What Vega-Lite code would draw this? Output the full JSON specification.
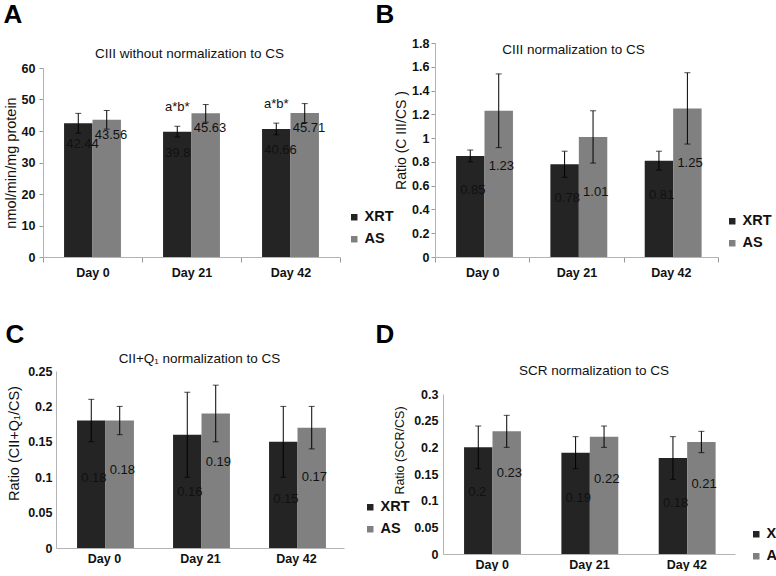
{
  "$schema": "https://vega.github.io/schema/vega-lite/v6.json",
  "background": "white",
  "padding": {"left": 3, "top": 1, "right": 0, "bottom": 0},
  "resolve": {"legend": {"color": "independent"}},
  "datasets": {
    "A": [
      {"day": "Day 0", "group": "XRT", "value": 42.44, "lo": 39.3, "hi": 45.6, "sig": ""},
      {"day": "Day 0", "group": "AS", "value": 43.56, "lo": 40.6, "hi": 46.5, "sig": ""},
      {"day": "Day 21", "group": "XRT", "value": 39.8, "lo": 38.1, "hi": 41.5, "sig": "a*b*"},
      {"day": "Day 21", "group": "AS", "value": 45.63, "lo": 42.8, "hi": 48.4, "sig": ""},
      {"day": "Day 42", "group": "XRT", "value": 40.66, "lo": 38.8, "hi": 42.5, "sig": "a*b*"},
      {"day": "Day 42", "group": "AS", "value": 45.71, "lo": 42.7, "hi": 48.7, "sig": ""}
    ],
    "B": [
      {"day": "Day 0", "group": "XRT", "value": 0.85, "lo": 0.8, "hi": 0.9},
      {"day": "Day 0", "group": "AS", "value": 1.23, "lo": 0.92, "hi": 1.54},
      {"day": "Day 21", "group": "XRT", "value": 0.78, "lo": 0.67, "hi": 0.89},
      {"day": "Day 21", "group": "AS", "value": 1.01, "lo": 0.79, "hi": 1.23},
      {"day": "Day 42", "group": "XRT", "value": 0.81, "lo": 0.73, "hi": 0.89},
      {"day": "Day 42", "group": "AS", "value": 1.25, "lo": 0.95, "hi": 1.55}
    ],
    "C": [
      {"day": "Day 0", "group": "XRT", "value": 0.18, "lo": 0.15, "hi": 0.21},
      {"day": "Day 0", "group": "AS", "value": 0.18, "lo": 0.16, "hi": 0.2},
      {"day": "Day 21", "group": "XRT", "value": 0.16, "lo": 0.1, "hi": 0.22},
      {"day": "Day 21", "group": "AS", "value": 0.19, "lo": 0.15, "hi": 0.23},
      {"day": "Day 42", "group": "XRT", "value": 0.15, "lo": 0.1, "hi": 0.2},
      {"day": "Day 42", "group": "AS", "value": 0.17, "lo": 0.14, "hi": 0.2}
    ],
    "D": [
      {"day": "Day 0", "group": "XRT", "value": 0.2, "lo": 0.16, "hi": 0.24},
      {"day": "Day 0", "group": "AS", "value": 0.23, "lo": 0.2, "hi": 0.26},
      {"day": "Day 21", "group": "XRT", "value": 0.19, "lo": 0.16, "hi": 0.22},
      {"day": "Day 21", "group": "AS", "value": 0.22, "lo": 0.2, "hi": 0.24},
      {"day": "Day 42", "group": "XRT", "value": 0.18, "lo": 0.14, "hi": 0.22},
      {"day": "Day 42", "group": "AS", "value": 0.21, "lo": 0.19, "hi": 0.23}
    ]
  },
  "spacing": -35,
  "hconcat": [
    {
      "spacing": 42,
      "resolve": {"legend": {"color": "independent"}},
      "vconcat": [
        {
          "width": 297, "height": 214,
          "title": {"text": "CIII without normalization to CS", "offset": -59.5, "anchor": "middle", "frame": "group", "dx": -2},
          "data": {"name": "A"},
          "encoding": {
            "x": {"field": "day", "type": "nominal", "sort": ["Day 0", "Day 21", "Day 42"], "scale": {"paddingInner": 0, "paddingOuter": 0},
                  "axis": {"ticks": true, "tickSize": 5, "title": "A", "titleX": -40, "titleY": -256}},
            "xOffset": {"field": "group", "type": "nominal", "sort": ["XRT", "AS"], "scale": {"paddingInner": 0, "paddingOuter": 0.74}}
          },
          "layer": [
            {"mark": {"type": "bar"}, "encoding": {
              "y": {"field": "value", "type": "quantitative", "scale": {"domain": [0, 60], "range": [214, 25], "nice": false}, "axis": {"values": [0, 10, 20, 30, 40, 50, 60], "ticks": true, "tickSize": 4, "labelPadding": 4, "title": "nmol/min/mg protein", "titlePadding": 3, "titleFontSize": 14.5}},
              "color": {"field": "group", "type": "nominal", "sort": ["XRT", "AS"], "scale": {"domain": ["XRT", "AS"], "range": ["#242424", "#808080"]}, "legend": {"orient": "none", "legendX": 304, "legendY": 167, "title": null}}
            }},
            {"mark": {"type": "rule", "color": "#000", "strokeWidth": 1}, "encoding": {"y": {"field": "lo", "type": "quantitative"}, "y2": {"field": "hi"}}},
            {"mark": {"type": "tick", "color": "#000", "thickness": 1, "size": 6, "orient": "horizontal"}, "encoding": {"y": {"field": "lo", "type": "quantitative"}}},
            {"mark": {"type": "tick", "color": "#000", "thickness": 1, "size": 6, "orient": "horizontal"}, "encoding": {"y": {"field": "hi", "type": "quantitative"}}},
            {"transform": [{"filter": "datum.group === 'XRT'"}], "mark": {"type": "text", "align": "left", "baseline": "middle", "dx": -12, "dy": 21, "fontSize": 13, "color": "#111"}, "encoding": {"y": {"field": "value", "type": "quantitative"}, "text": {"field": "value", "type": "quantitative", "format": "~g"}}},
            {"transform": [{"filter": "datum.group === 'AS'"}], "mark": {"type": "text", "align": "left", "baseline": "middle", "dx": -12, "dy": 15, "fontSize": 13, "color": "#111"}, "encoding": {"y": {"field": "value", "type": "quantitative"}, "text": {"field": "value", "type": "quantitative", "format": "~g"}}},
            {"transform": [{"filter": "datum.sig != ''"}], "mark": {"type": "text", "align": "center", "baseline": "middle", "dy": -19, "fontSize": 13, "color": "#111"}, "encoding": {"y": {"field": "hi", "type": "quantitative"}, "text": {"field": "sig", "type": "nominal"}}}
          ]
        },
        {
          "width": 301, "height": 177,
          "title": {"text": "CII+Q₁ normalization to CS", "offset": -44.5, "anchor": "middle", "frame": "group", "dx": 6},
          "data": {"name": "C"},
          "encoding": {
            "x": {"field": "day", "type": "nominal", "sort": ["Day 0", "Day 21", "Day 42"], "scale": {"paddingInner": 0, "paddingOuter": 0, "range": [13, 301]},
                  "axis": {"ticks": false, "title": "C", "titleX": -38, "titleY": -227}},
            "xOffset": {"field": "group", "type": "nominal", "sort": ["XRT", "AS"], "scale": {"paddingInner": 0, "paddingOuter": 0.76}}
          },
          "layer": [
            {"mark": {"type": "bar"}, "encoding": {
              "y": {"field": "value", "type": "quantitative", "scale": {"domain": [0, 0.25], "nice": false}, "axis": {"values": [0, 0.05, 0.1, 0.15, 0.2, 0.25], "ticks": false, "offset": -13, "labelPadding": 4, "title": "Ratio (CII+Q₁/CS)", "titleX": -35, "titleY": 72, "titleFontSize": 14.5}},
              "color": {"field": "group", "type": "nominal", "sort": ["XRT", "AS"], "scale": {"domain": ["XRT", "AS"], "range": ["#242424", "#808080"]}, "legend": {"orient": "none", "legendX": 320, "legendY": 129, "title": null}}
            }},
            {"mark": {"type": "rule", "color": "#000", "strokeWidth": 1}, "encoding": {"y": {"field": "lo", "type": "quantitative"}, "y2": {"field": "hi"}}},
            {"mark": {"type": "tick", "color": "#000", "thickness": 1, "size": 6, "orient": "horizontal"}, "encoding": {"y": {"field": "lo", "type": "quantitative"}}},
            {"mark": {"type": "tick", "color": "#000", "thickness": 1, "size": 6, "orient": "horizontal"}, "encoding": {"y": {"field": "hi", "type": "quantitative"}}},
            {"transform": [{"filter": "datum.group === 'XRT'"}], "mark": {"type": "text", "align": "left", "baseline": "middle", "dx": -10, "dy": 57, "fontSize": 13, "color": "#111"}, "encoding": {"y": {"field": "value", "type": "quantitative"}, "text": {"field": "value", "type": "quantitative", "format": "~g"}}},
            {"transform": [{"filter": "datum.group === 'AS'"}], "mark": {"type": "text", "align": "left", "baseline": "middle", "dx": -10, "dy": 49, "fontSize": 13, "color": "#111"}, "encoding": {"y": {"field": "value", "type": "quantitative"}, "text": {"field": "value", "type": "quantitative", "format": "~g"}}}
          ]
        }
      ]
    },
    {
      "spacing": 42,
      "resolve": {"legend": {"color": "independent"}},
      "vconcat": [
        {
          "width": 283, "height": 214,
          "title": {"text": "CIII normalization to CS", "offset": -55.5, "anchor": "middle", "frame": "group", "dx": -3},
          "data": {"name": "B"},
          "encoding": {
            "x": {"field": "day", "type": "nominal", "sort": ["Day 0", "Day 21", "Day 42"], "scale": {"paddingInner": 0, "paddingOuter": 0},
                  "axis": {"ticks": true, "tickSize": 5, "title": "B", "titleX": -60, "titleY": -256}},
            "xOffset": {"field": "group", "type": "nominal", "sort": ["XRT", "AS"], "scale": {"paddingInner": 0, "paddingOuter": 0.76}}
          },
          "layer": [
            {"mark": {"type": "bar"}, "encoding": {
              "y": {"field": "value", "type": "quantitative", "scale": {"domain": [0, 1.8], "nice": false}, "axis": {"values": [0, 0.2, 0.4, 0.6, 0.8, 1, 1.2, 1.4, 1.6, 1.8], "ticks": true, "tickSize": 4, "labelPadding": 2, "title": "Ratio (C III/CS )", "titleX": -27, "titleY": 97, "titleFontSize": 14}},
              "color": {"field": "group", "type": "nominal", "sort": ["XRT", "AS"], "scale": {"domain": ["XRT", "AS"], "range": ["#242424", "#808080"]}, "legend": {"orient": "none", "legendX": 290, "legendY": 171, "title": null}}
            }},
            {"mark": {"type": "rule", "color": "#000", "strokeWidth": 1}, "encoding": {"y": {"field": "lo", "type": "quantitative"}, "y2": {"field": "hi"}}},
            {"mark": {"type": "tick", "color": "#000", "thickness": 1, "size": 6, "orient": "horizontal"}, "encoding": {"y": {"field": "lo", "type": "quantitative"}}},
            {"mark": {"type": "tick", "color": "#000", "thickness": 1, "size": 6, "orient": "horizontal"}, "encoding": {"y": {"field": "hi", "type": "quantitative"}}},
            {"transform": [{"filter": "datum.group === 'XRT'"}], "mark": {"type": "text", "align": "left", "baseline": "middle", "dx": -10, "dy": 34, "fontSize": 13, "color": "#111"}, "encoding": {"y": {"field": "value", "type": "quantitative"}, "text": {"field": "value", "type": "quantitative", "format": "~g"}}},
            {"transform": [{"filter": "datum.group === 'AS'"}], "mark": {"type": "text", "align": "left", "baseline": "middle", "dx": -10, "dy": 55, "fontSize": 13, "color": "#111"}, "encoding": {"y": {"field": "value", "type": "quantitative"}, "text": {"field": "value", "type": "quantitative", "format": "~g"}}}
          ]
        },
        {
          "width": 300, "height": 160,
          "title": {"text": "SCR normalization to CS", "offset": -56.5, "anchor": "middle", "frame": "group", "dx": 9},
          "data": {"name": "D"},
          "encoding": {
            "x": {"field": "day", "type": "nominal", "sort": ["Day 0", "Day 21", "Day 42"], "scale": {"paddingInner": 0, "paddingOuter": 0, "range": [8, 300]},
                  "axis": {"ticks": false, "title": "D", "titleX": -60, "titleY": -233}},
            "xOffset": {"field": "group", "type": "nominal", "sort": ["XRT", "AS"], "scale": {"paddingInner": 0, "paddingOuter": 0.77}}
          },
          "layer": [
            {"mark": {"type": "bar"}, "encoding": {
              "y": {"field": "value", "type": "quantitative", "scale": {"domain": [0, 0.3], "nice": false}, "axis": {"values": [0, 0.05, 0.1, 0.15, 0.2, 0.25, 0.3], "ticks": false, "offset": -8, "labelPadding": 5, "title": "Ratio (SCR/CS)", "titleX": -37, "titleY": 56, "titleFontSize": 12.5}},
              "color": {"field": "group", "type": "nominal", "sort": ["XRT", "AS"], "scale": {"domain": ["XRT", "AS"], "range": ["#242424", "#808080"]}, "legend": {"orient": "none", "legendX": 314, "legendY": 133, "title": null}}
            }},
            {"mark": {"type": "rule", "color": "#000", "strokeWidth": 1}, "encoding": {"y": {"field": "lo", "type": "quantitative"}, "y2": {"field": "hi"}}},
            {"mark": {"type": "tick", "color": "#000", "thickness": 1, "size": 6, "orient": "horizontal"}, "encoding": {"y": {"field": "lo", "type": "quantitative"}}},
            {"mark": {"type": "tick", "color": "#000", "thickness": 1, "size": 6, "orient": "horizontal"}, "encoding": {"y": {"field": "hi", "type": "quantitative"}}},
            {"transform": [{"filter": "datum.group === 'XRT'"}], "mark": {"type": "text", "align": "left", "baseline": "middle", "dx": -10, "dy": 45, "fontSize": 13, "color": "#111"}, "encoding": {"y": {"field": "value", "type": "quantitative"}, "text": {"field": "value", "type": "quantitative", "format": "~g"}}},
            {"transform": [{"filter": "datum.group === 'AS'"}], "mark": {"type": "text", "align": "left", "baseline": "middle", "dx": -10, "dy": 42, "fontSize": 13, "color": "#111"}, "encoding": {"y": {"field": "value", "type": "quantitative"}, "text": {"field": "value", "type": "quantitative", "format": "~g"}}}
          ]
        }
      ]
    }
  ],
  "config": {
    "font": "Liberation Sans",
    "view": {"stroke": null},
    "axis": {"grid": false, "domainColor": "#b4b4b4", "tickColor": "#9a9a9a", "labelColor": "#111", "titleColor": "#111", "labelFontSize": 12.5, "labelFontWeight": "bold", "titleFontWeight": "normal", "labelOverlap": false},
    "axisY": {"labelExpr": "format(datum.value, '~g')", "tickCount": 20},
    "axisX": {"labelAngle": 0, "tickBand": "extent", "labelPadding": 4, "titleAlign": "left", "titleBaseline": "top", "titleAnchor": "start", "titleFontSize": 26, "titleFontWeight": "bold", "titleColor": "#000"},
    "legend": {"symbolType": "square", "symbolSize": 42, "symbolStrokeWidth": 0, "labelFontSize": 14.5, "labelFontWeight": "bold", "labelColor": "#111", "rowPadding": 7, "labelOffset": 3, "padding": 0},
    "title": {"fontWeight": "normal", "fontSize": 13.5, "color": "#111"}
  }
}
